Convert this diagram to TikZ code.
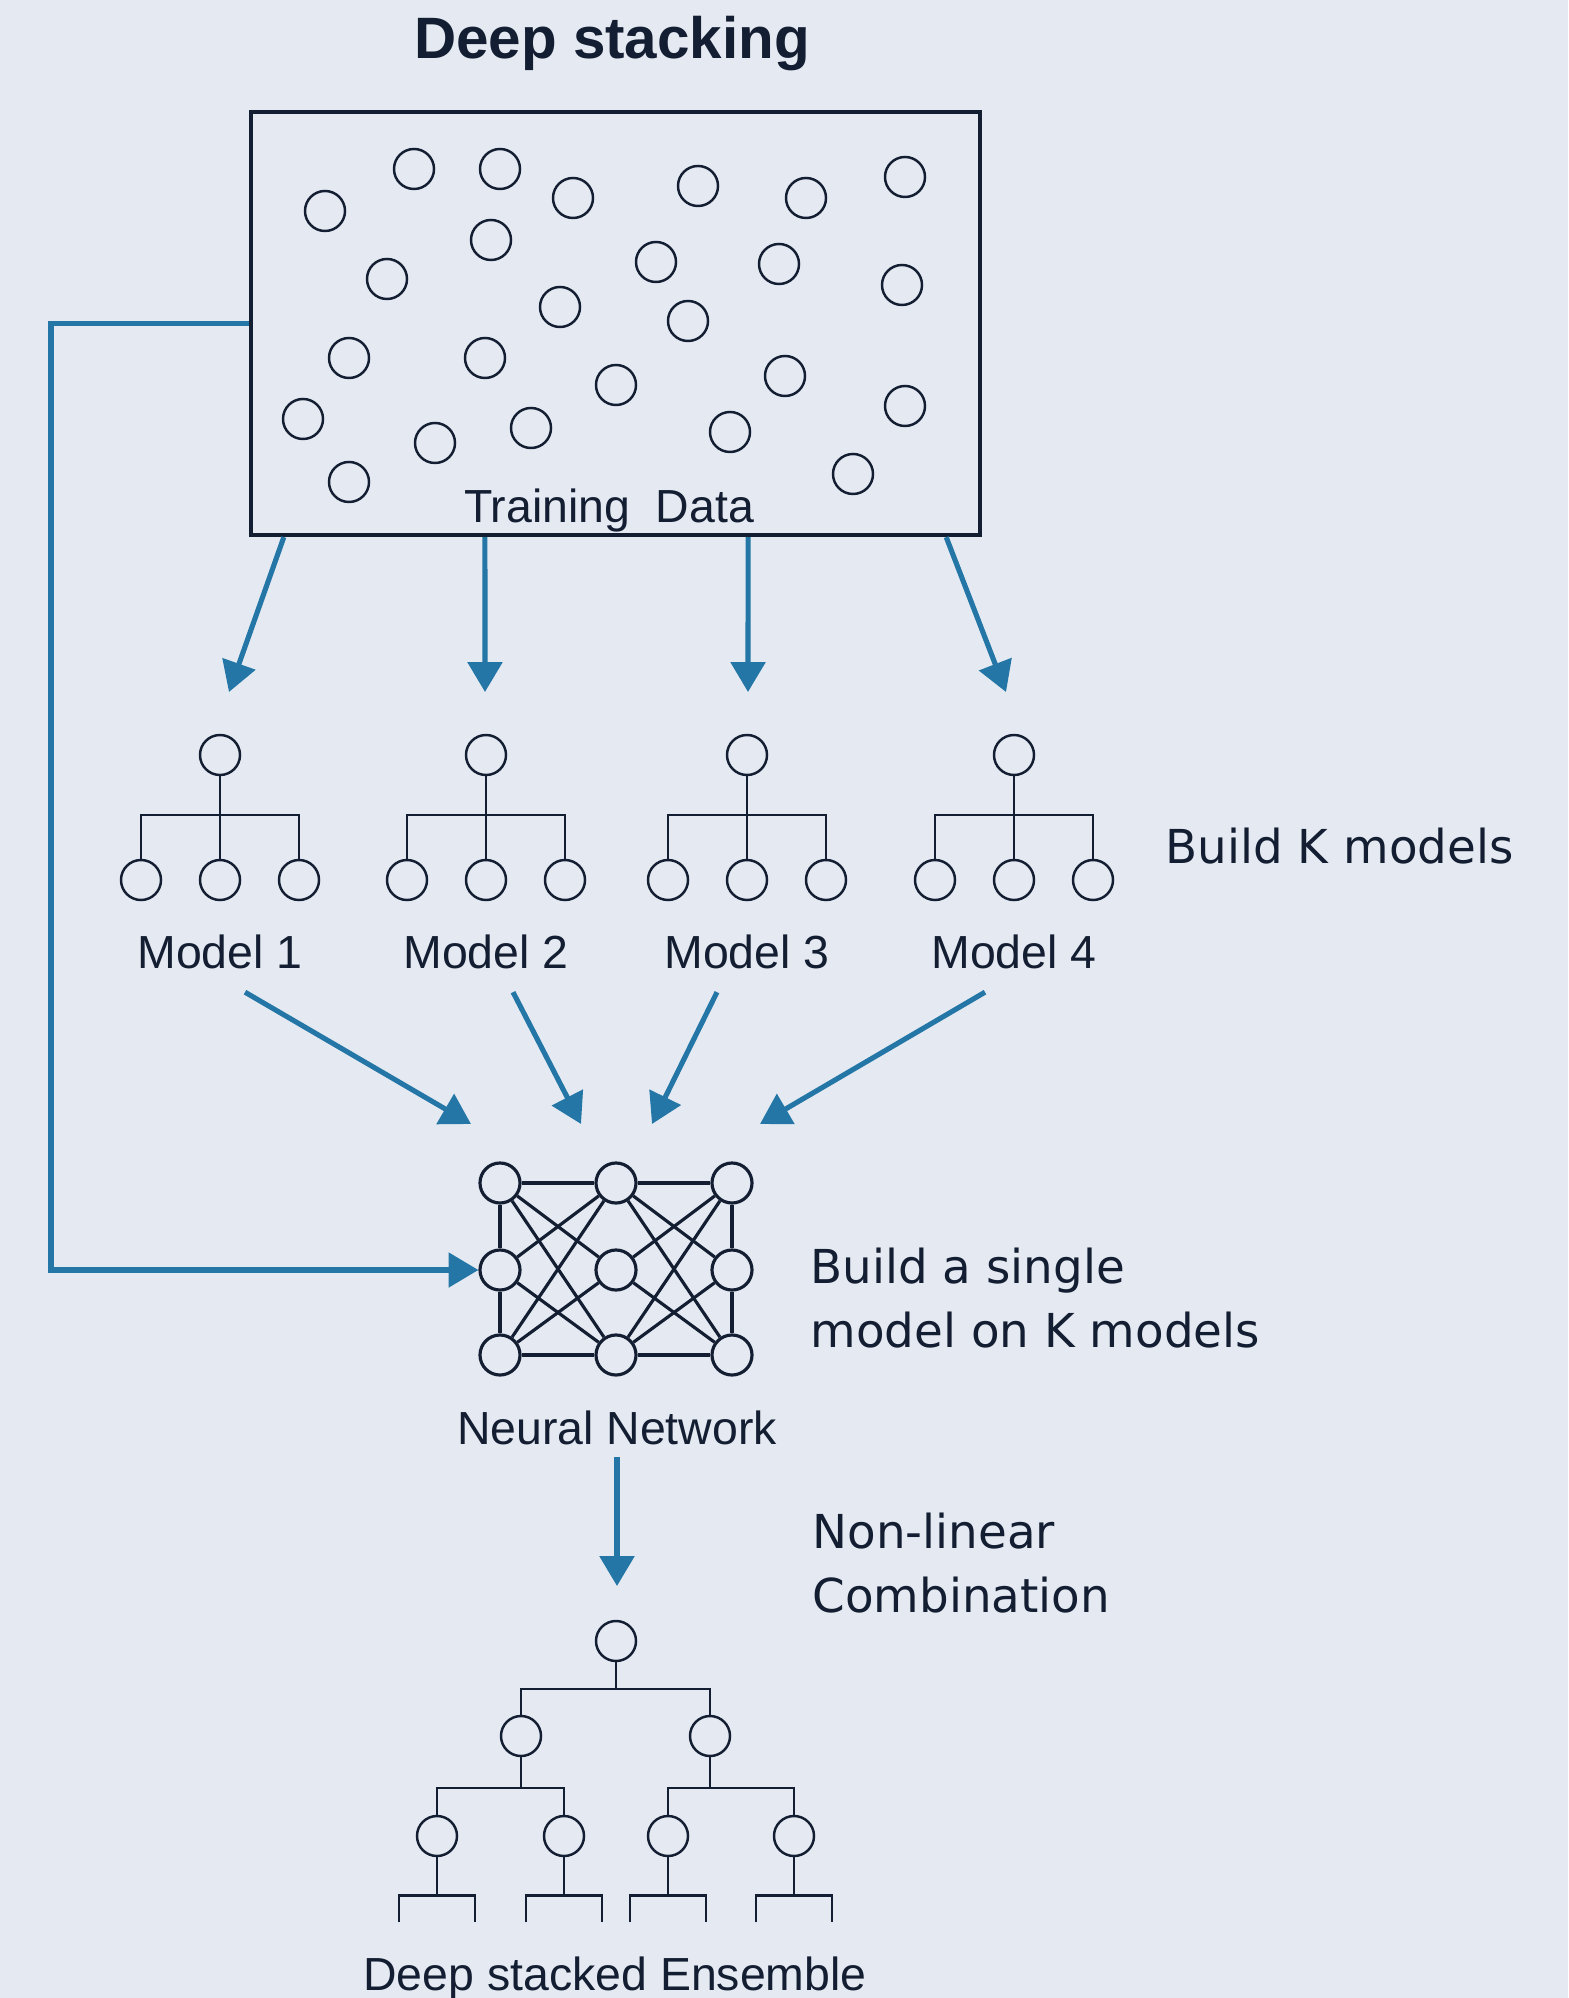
\documentclass[tikz,border=0pt]{standalone}
\usepackage{fontspec}
\setmainfont{Liberation Sans}
\newfontfamily\notefont{DejaVu Sans}
\usetikzlibrary{arrows.meta}
\definecolor{bgcol}{RGB}{229,234,242}
\definecolor{ink}{RGB}{20,30,50}
\definecolor{flowblue}{RGB}{35,118,166}

\begin{document}
\begin{tikzpicture}[x=0.01cm,y=-0.01cm,
    dot/.style={circle,draw=ink,line width=0.7pt,inner sep=0pt,minimum size=0.4cm},
    tree/.style={draw=ink,line width=0.8pt},
    flow/.style={draw=flowblue,line width=1.45pt,-{Triangle[length=8.5pt,width=9.7pt]}},
    lbl/.style={text=ink,inner sep=0pt,anchor=base,font=\fontsize{13.2pt}{16pt}\selectfont},
    note/.style={text=ink,inner sep=0pt,anchor=base west,align=left,font=\notefont\fontsize{13.3pt}{18.2pt}\selectfont}]

    \fill[bgcol] (0,0) rectangle (1568,1998);
    \useasboundingbox (0,0) rectangle (1568,1998);

    \node[text=ink,inner sep=0pt,anchor=base,font=\bfseries\fontsize{16.6pt}{19pt}\selectfont] (title) at (612,59) {Deep stacking};

    % training data
    \node[draw=ink,line width=1.15pt,minimum width=7.29cm,minimum height=4.23cm,inner sep=0pt] (data) at (615.5,323.5) {};
    \foreach \x/\y [count=\i] in {325/211,414/169,500/169,573/198,698/186,806/198,905/177,
            491/240,387/279,656/262,779/264,902/285,560/307,688/321,
            349/358,485/358,616/385,785/376,303/419,435/443,531/428,730/432,905/406,349/482,853/474}
        \node[dot] (p\i) at (\x,\y) {};
    \node[lbl] (datalab) at (609,523) {Training\ \ Data};

    % the K base models
    \foreach \x [count=\k] in {220,486,747,1014}{
        \node[dot] (m\k) at (\x,755) {};
        \node[dot] (m\k-a) at (\x-79,880) {};
        \node[dot] (m\k-b) at (\x,880) {};
        \node[dot] (m\k-c) at (\x+79,880) {};
        \coordinate (mb\k) at (\x,815);
        \draw[tree] (m\k.south) -- (m\k-b.north);
        \draw[tree,line width=0.6pt] (m\k-a.north) |- (mb\k) -| (m\k-c.north);
        \node[lbl] (ml\k) at (\x,968) {Model \k};
    }
    \node[note] (buildk) at (1165,863) {Build K models};

    \coordinate (t1) at (229,692);
    \coordinate (t2) at (485,692);
    \coordinate (t3) at (748,692);
    \coordinate (t4) at (1006,692);
    \draw[flow] ([xshift=-3.315cm]data.south) -- (t1);
    \draw[flow] ([xshift=-1.305cm]data.south) -- (t2);
    \draw[flow] ([xshift=1.325cm]data.south) -- (t3);
    \draw[flow] ([xshift=3.305cm]data.south) -- (t4);

    % neural network
    \foreach \c/\x in {1/500,2/616,3/732}
        \foreach \r/\y in {1/1183,2/1270,3/1355}
            \node[dot,line width=0.9pt] (n\r\c) at (\x,\y) {};
    \foreach \a/\b in {n11/n12,n12/n13,n31/n32,n32/n33,n11/n21,n21/n31,n13/n23,n23/n33,
            n11/n22,n11/n32,n21/n12,n21/n32,n31/n12,n31/n22,
            n12/n23,n12/n33,n22/n13,n22/n33,n32/n13,n32/n23}
        \draw[tree,line width=0.9pt] (\a) -- (\b);
    \node[lbl] (nnlab) at (617,1444) {Neural Network};
    \node[note] (single) at (810,1347) {Build a single\\model on K models};

    \coordinate (h1) at (471,1124);
    \coordinate (h2) at (581,1124);
    \coordinate (h3) at (652,1124);
    \coordinate (h4) at (760,1124);
    \draw[flow] ([xshift=0.25cm,yshift=-0.23cm]ml1.south) -- (h1);
    \draw[flow] ([xshift=0.27cm,yshift=-0.23cm]ml2.south) -- (h2);
    \draw[flow] ([xshift=-0.3cm,yshift=-0.23cm]ml3.south) -- (h3);
    \draw[flow] ([xshift=-0.29cm,yshift=-0.23cm]ml4.south) -- (h4);

    \coordinate (loop) at (51,1270);
    \draw[flow] (data.west) -| (loop) -- (n21.west);

    % stacked ensemble
    \node[note] (nonlin) at (812,1612) {Non-linear\\Combination};
    \coordinate (t5) at (617,1586);
    \draw[flow] ([yshift=-0.12cm]nnlab.south) -- (t5);

    \node[dot] (d0) at (616,1641) {};
    \node[dot] (d1) at (521,1736) {};
    \node[dot] (d2) at (710,1736) {};
    \node[dot] (d11) at (437,1836) {};
    \node[dot] (d12) at (564,1836) {};
    \node[dot] (d21) at (668,1836) {};
    \node[dot] (d22) at (794,1836) {};
    \coordinate (b0) at (616,1689);
    \coordinate (b1) at (521,1788);
    \coordinate (b2) at (710,1788);
    \draw[tree] (d0.south) -- (b0);
    \draw[tree] (d1.north) |- (b0) -| (d2.north);
    \draw[tree] (d1.south) -- (b1);
    \draw[tree] (d11.north) |- (b1) -| (d12.north);
    \draw[tree] (d2.south) -- (b2);
    \draw[tree] (d21.north) |- (b2) -| (d22.north);
    \foreach \n in {d11,d12,d21,d22}
        \draw[tree] (\n.south) -- ++(0,38) ++(-38,27) |- ++(76,-27) -- ++(0,27);
    \node[lbl] (ens) at (615,1990) {Deep stacked Ensemble};
\end{tikzpicture}
\end{document}
